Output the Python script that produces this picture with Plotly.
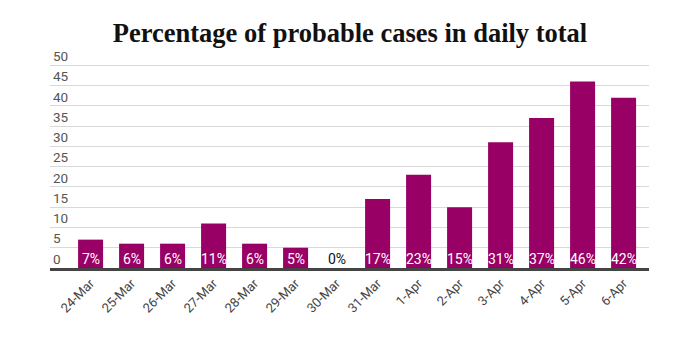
import plotly.graph_objects as go

dates = ["24-Mar", "25-Mar", "26-Mar", "27-Mar", "28-Mar", "29-Mar", "30-Mar",
         "31-Mar", "1-Apr", "2-Apr", "3-Apr", "4-Apr", "5-Apr", "6-Apr"]
probable_pct = [7, 6, 6, 11, 6, 5, 0, 17, 23, 15, 31, 37, 46, 42]
y_ticks = [0, 5, 10, 15, 20, 25, 30, 35, 40, 45, 50]

BAR_COLOR = "#990066"
AXIS_GRAY = "#444444"

fig = go.Figure()
fig.add_trace(go.Bar(
    x=dates,
    y=probable_pct,
    marker=dict(color=BAR_COLOR, line=dict(width=0)),
    width=0.61,
    hoverinfo="x+y",
))

# value labels sitting at the base of each bar
for d, v in zip(dates, probable_pct):
    fig.add_annotation(
        x=d, y=0, xref="x", yref="y",
        text=f"{v}%",
        showarrow=False,
        yanchor="bottom", yshift=-1,
        font=dict(family="Roboto", size=14, color="#ffffff" if v > 0 else "#111111"),
    )

# headroom above 50 so the top tick label (drawn above its gridline) fits
fig.update_layout(
    width=700, height=339,
    margin=dict(l=50, r=51, t=41, b=71),
    paper_bgcolor="#ffffff",
    plot_bgcolor="#ffffff",
    showlegend=False,
    bargap=0.39,
    title=dict(
        text="<b>Percentage of probable cases in daily total</b>",
        x=0.5, xanchor="center",
        y=1 - 33 / 339, yanchor="middle",
        font=dict(family="Liberation Serif", size=26.5, color="#111111"),
    ),
    xaxis=dict(
        type="category",
        range=[-0.99, 13.62],
        tickangle=-45,
        tickfont=dict(family="Roboto", size=13, color=AXIS_GRAY),
        showgrid=False,
        showline=True, linecolor=AXIS_GRAY, linewidth=2.5,
        ticks="",
    ),
    yaxis=dict(
        range=[0, 56],
        tickvals=y_ticks,
        ticklabelposition="inside",
        ticklabelshift=-9,
        tickfont=dict(family="Roboto", size=13.5, color="#555555"),
        showgrid=True, gridcolor="#d9d9d9", gridwidth=1,
        zeroline=False,
        showline=False,
        ticks="",
    ),
)

fig.write_html("out.html")
